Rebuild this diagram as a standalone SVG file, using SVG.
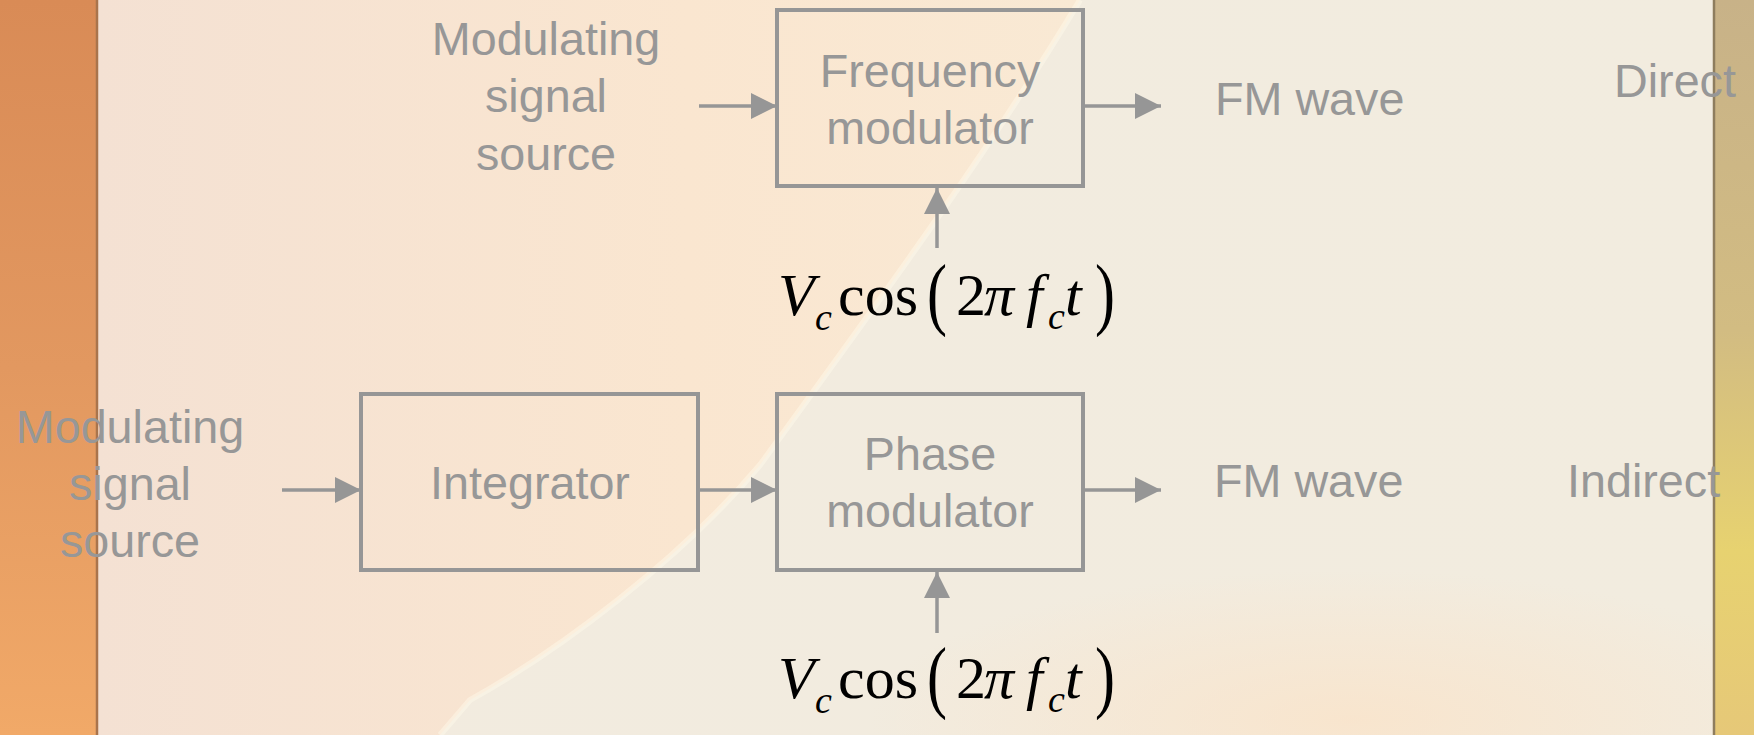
<svg xmlns="http://www.w3.org/2000/svg" width="1754" height="735" viewBox="0 0 1754 735">
<defs>
<linearGradient id="bg" x1="0" y1="0" x2="1" y2="0">
<stop offset="0" stop-color="#F2EBDF"/>
<stop offset="1" stop-color="#F2ECDF"/>
</linearGradient>
<linearGradient id="warm" x1="0" y1="0" x2="1" y2="0">
<stop offset="0" stop-color="#F4E1D3"/>
<stop offset="0.6" stop-color="#FAE6D0"/>
<stop offset="1" stop-color="#F9E9D4"/>
</linearGradient>
<linearGradient id="lbar" x1="0" y1="0" x2="0" y2="1">
<stop offset="0" stop-color="#D98B56"/>
<stop offset="0.5" stop-color="#E29860"/>
<stop offset="1" stop-color="#F1A968"/>
</linearGradient>
<linearGradient id="rbar" x1="0" y1="0" x2="0" y2="1">
<stop offset="0" stop-color="#C8B288"/>
<stop offset="0.45" stop-color="#D2BC82"/>
<stop offset="0.75" stop-color="#E7D270"/>
<stop offset="1" stop-color="#E6C878"/>
</linearGradient>
<radialGradient id="peach" cx="0.5" cy="0.5" r="0.5">
<stop offset="0" stop-color="#FBE2C6" stop-opacity="0.7"/>
<stop offset="1" stop-color="#FBE2C6" stop-opacity="0"/>
</radialGradient>
<marker id="arr" markerUnits="userSpaceOnUse" markerWidth="26" markerHeight="26" refX="26" refY="13" orient="auto">
<path d="M0,0 L26,13 L0,26 Z" fill="#969696"/>
</marker>
<style>
.lbl{font-family:"Liberation Sans",Arial,sans-serif;font-size:46.7px;fill:#979797}
.mid{text-anchor:middle}
.box{fill:none;stroke:#969696;stroke-width:4}
.con{stroke:#969696;stroke-width:3.5;fill:none;marker-end:url(#arr)}
.m{font-family:"Liberation Serif","Times New Roman",serif;fill:#000;font-size:60px}
.s{font-size:38px}
.it{font-style:italic}
</style>
</defs>

<g id="background">
<rect x="0" y="0" width="1754" height="735" fill="url(#bg)"/>
<path d="M97,0 L1080,0 C990,150 880,300 760,465 C680,560 560,650 470,700 L440,735 L97,735 Z" fill="url(#warm)"/>
<ellipse cx="1350" cy="720" rx="480" ry="150" fill="url(#peach)"/>
<path d="M1080,0 C990,150 880,300 760,465 C680,560 560,650 470,700 L440,735" stroke="#FFFAEC" stroke-width="6" fill="none" opacity="0.45"/>
<rect x="0" y="0" width="97" height="735" fill="url(#lbar)"/>
<line x1="97" y1="0" x2="97" y2="735" stroke="#A9744C" stroke-width="2.5"/>
<rect x="1714" y="0" width="40" height="735" fill="url(#rbar)"/>
<line x1="1714" y1="0" x2="1714" y2="735" stroke="#8E7D5E" stroke-width="2.5"/>
</g>

<g id="connectors">
<line class="con" x1="699" y1="106" x2="777" y2="106"/>
<line class="con" x1="1083" y1="106" x2="1161" y2="106"/>
<line class="con" x1="937" y1="248" x2="937" y2="188"/>
<line class="con" x1="282" y1="490" x2="361" y2="490"/>
<line class="con" x1="698" y1="490" x2="777" y2="490"/>
<line class="con" x1="1083" y1="490" x2="1161" y2="490"/>
<line class="con" x1="937" y1="633" x2="937" y2="572"/>
</g>

<g id="src-top">
<text class="lbl mid" x="546" y="55">Modulating</text>
<text class="lbl mid" x="546" y="112">signal</text>
<text class="lbl mid" x="546" y="170">source</text>
</g>
<g id="freq-mod">
<rect class="box" x="777" y="10" width="306" height="176"/>
<text class="lbl mid" x="930" y="87">Frequency</text>
<text class="lbl mid" x="930" y="144">modulator</text>
</g>
<g id="fm-top"><text class="lbl" x="1215" y="115">FM wave</text></g>
<g id="carrier-top">
<text class="m it" x="778" y="315">V</text>
<text class="m it s" x="815" y="330">c</text>
<text class="m" x="838" y="315">cos</text>
<text class="m" transform="translate(927,320) scale(1,1.35)">(</text>
<text class="m" x="956" y="315">2</text>
<text class="m it" x="984" y="315">π</text>
<text class="m it" x="1026" y="315">f</text>
<text class="m it s" x="1048" y="329">c</text>
<text class="m it" x="1065" y="315">t</text>
<text class="m" transform="translate(1095,320) scale(1,1.35)">)</text>
</g>

<g id="src-bottom">
<text class="lbl mid" x="130" y="443">Modulating</text>
<text class="lbl mid" x="130" y="500">signal</text>
<text class="lbl mid" x="130" y="557">source</text>
</g>
<g id="integrator">
<rect class="box" x="361" y="394" width="337" height="176"/>
<text class="lbl mid" x="530" y="499">Integrator</text>
</g>
<g id="phase-mod">
<rect class="box" x="777" y="394" width="306" height="176"/>
<text class="lbl mid" x="930" y="470">Phase</text>
<text class="lbl mid" x="930" y="527">modulator</text>
</g>
<g id="fm-bottom"><text class="lbl" x="1214" y="497">FM wave</text></g>
<g id="carrier-bottom">
<text class="m it" x="778" y="698">V</text>
<text class="m it s" x="815" y="713">c</text>
<text class="m" x="838" y="698">cos</text>
<text class="m" transform="translate(927,703) scale(1,1.35)">(</text>
<text class="m" x="956" y="698">2</text>
<text class="m it" x="984" y="698">π</text>
<text class="m it" x="1026" y="698">f</text>
<text class="m it s" x="1048" y="712">c</text>
<text class="m it" x="1065" y="698">t</text>
<text class="m" transform="translate(1095,703) scale(1,1.35)">)</text>
</g>

<g id="direct"><text class="lbl" x="1614" y="97">Direct</text></g>
<g id="indirect"><text class="lbl" x="1567" y="497">Indirect</text></g>
</svg>
